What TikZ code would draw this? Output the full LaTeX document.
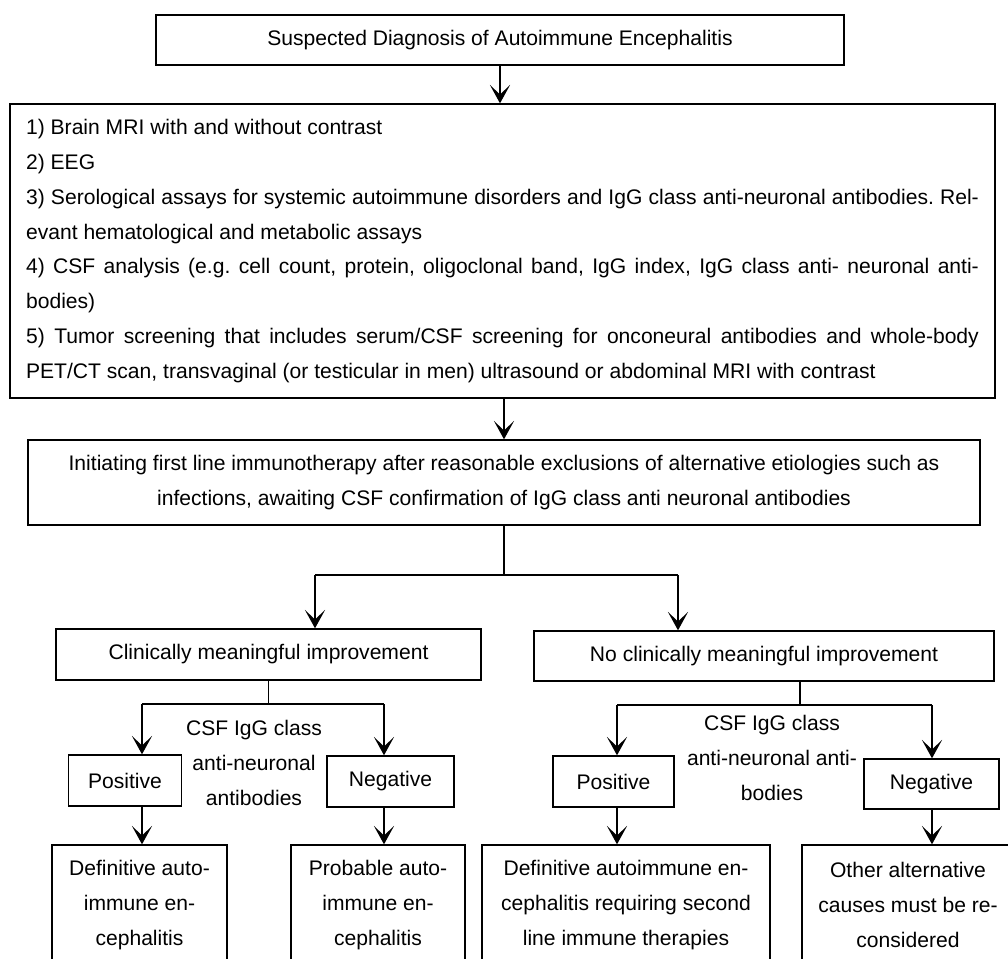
\documentclass[tikz,border=0pt]{standalone}
\usepackage{fontspec}
\setmainfont{Liberation Sans}
\usetikzlibrary{arrows.meta}
\begin{document}
\begin{tikzpicture}[x=0.02cm,y=-0.02cm,
  txt/.style={font=\fontsize{12}{19.8}\selectfont},
  box/.style={draw, line width=0.8pt, inner sep=0pt, txt, align=center},
  lbl/.style={inner sep=0pt, txt, align=center},
  arr/.style={-{Stealth[length=10.5pt,width=11.5pt,inset=5.5pt]}, line width=0.75pt},
  ln/.style={line width=0.75pt}]
\clip (0,0) rectangle (1008,958);
\fill[white] (0,0) rectangle (1008,958);

\node[box, minimum width=13.76cm, minimum height=1cm] (top) at (500,40) {Suspected Diagnosis of Autoimmune Encephalitis};

\node[box, minimum width=19.7cm, minimum height=5.88cm, text width=19.06cm, align=justify] (tests) at (502.5,251) {%
\hyphenpenalty10000 \exhyphenpenalty10000 \tolerance9999 \frenchspacing\noindent
1) Brain MRI with and without contrast\par\noindent
2) EEG\par\noindent
3) Serological assays for systemic autoimmune disorders and IgG class anti-neuronal antibodies. Rel-\linebreak evant hematological and metabolic assays\par\noindent
4) CSF analysis (e.g. cell count, protein, oligoclonal band, IgG index, IgG class anti- neuronal anti-\linebreak bodies)\par\noindent
5) Tumor screening that includes serum/CSF screening for onconeural antibodies and whole-body\linebreak PET/CT scan, transvaginal (or testicular in men) ultrasound or abdominal MRI with contrast};

\node[box, minimum width=19.04cm, minimum height=1.7cm] (first) at (504,482.5) {Initiating first line immunotherapy after reasonable exclusions of alternative etiologies such as\\infections, awaiting CSF confirmation of IgG class anti neuronal antibodies};

\node[box, minimum width=8.5cm, minimum height=1.02cm] (cl) at (268.5,654.5) {Clinically meaningful improvement};
\node[box, minimum width=9.2cm, minimum height=1cm] (ncl) at (764,656) {No clinically meaningful improvement};

\node[box, minimum width=2.25cm, minimum height=1.02cm] (pos1) at (125,780.5) {Positive};
\node[box, minimum width=2.54cm, minimum height=1.02cm] (neg1) at (390.5,781.5) {Negative};
\node[lbl] (lab1) at (254,763) {CSF IgG class\\anti-neuronal\\antibodies};
\node[box, minimum width=2.42cm, minimum height=1.02cm] (pos2) at (613.5,781.5) {Positive};
\node[box, minimum width=2.7cm, minimum height=1cm] (neg2) at (931.5,784) {Negative};
\node[lbl] (lab2) at (772,758) {CSF IgG class\\anti-neuronal anti-\\bodies};

\node[box, minimum width=3.5cm, minimum height=2.4cm] (def1) at (139.5,905) {Definitive auto-\\immune en-\\cephalitis};
\node[box, minimum width=3.48cm, minimum height=2.4cm] (prob1) at (378,905) {Probable auto-\\immune en-\\cephalitis};
\node[box, minimum width=5.76cm, minimum height=2.4cm] (def2) at (626,905) {Definitive autoimmune en-\\cephalitis requiring second\\line immune therapies};
\node[box, minimum width=4.24cm, minimum height=2.4cm] (other) at (908,905) {Other alternative\\causes must be re-\\considered};

\draw[arr] (top.south) -- (tests.north -| top.south);
\draw[arr] (tests.south -| first.north) -- (first.north);

\coordinate (j0) at (504,575);
\coordinate (jl) at (315,575);
\coordinate (jr) at (678,575);
\draw[ln] (first.south) -- (j0);
\draw[ln] (jl) -- (jr);
\draw[arr] (jl) -- (jl |- cl.north);
\draw[arr] (jr) -- (jr |- ncl.north);

\coordinate (a0) at (268.5,704);
\coordinate (al) at (142,704);
\coordinate (ar) at (384,704);
\draw[ln] (cl.south) -- (a0);
\draw[ln] (al) -- (ar);
\draw[arr] (al) -- (al |- pos1.north);
\draw[arr] (ar) -- (ar |- neg1.north);
\draw[arr] (pos1.south -| al) -- (def1.north -| al);
\draw[arr] (neg1.south -| ar) -- (prob1.north -| ar);

\coordinate (b0) at (800,705);
\coordinate (bl) at (617,705);
\coordinate (br) at (932,705);
\draw[ln] (ncl.south -| b0) -- (b0);
\draw[ln] (bl) -- (br);
\draw[arr] (bl) -- (bl |- pos2.north);
\draw[arr] (br) -- (br |- neg2.north);
\draw[arr] (pos2.south -| bl) -- (def2.north -| bl);
\draw[arr] (neg2.south -| br) -- (other.north -| br);
\end{tikzpicture}
\end{document}
